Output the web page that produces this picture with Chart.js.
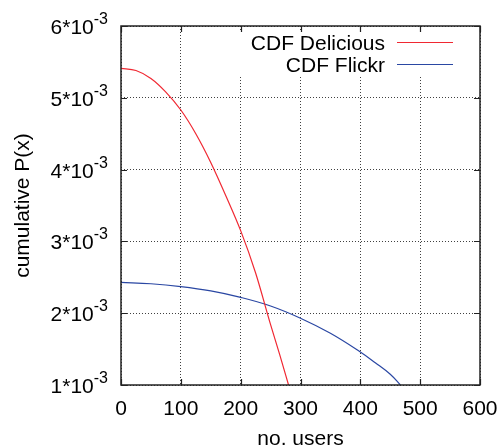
<!DOCTYPE html>
<html>
<head>
<meta charset="utf-8">
<script src="https://cdn.jsdelivr.net/npm/chart.js@4/dist/chart.umd.min.js"></script>
<style>
  html, body { margin: 0; padding: 0; background: #fff; }
  canvas { display: block; }
</style>
</head>
<body>
<canvas id="chart" width="501" height="447"></canvas>
<script>
// values (y in units of 10^-3)
const deliciousX = [0, 25, 50, 75, 100, 125, 150, 175, 200, 225, 250, 265, 280];
const deliciousY = [5.41, 5.38, 5.27, 5.08, 4.83, 4.50, 4.10, 3.64, 3.15, 2.56, 1.84, 1.43, 1.0];
const flickrX = [0, 50, 100, 150, 200, 250, 300, 350, 400, 425, 450, 467];
const flickrY = [2.43, 2.41, 2.37, 2.31, 2.22, 2.10, 1.93, 1.72, 1.46, 1.31, 1.15, 1.0];
const xTicks = [0, 100, 200, 300, 400, 500, 600];
const yTicks = [1, 2, 3, 4, 5, 6];
const seriesNames = ["CDF Delicious", "CDF Flickr"];
const seriesColors = ["rgb(240,40,50)", "#2a47a3"];

const FONT = "Liberation Sans, Arial, sans-serif";

function toPoints(xs, ys) {
    return xs.map((x, i) => ({ x: x, y: ys[i] }));
}

const decor = {
    id: "decor",
    afterDraw(chart) {
        const ctx = chart.ctx;
        const a = chart.chartArea;
        const xs = chart.scales.x;
        const ys = chart.scales.y;
        ctx.save();

        // key background hides the grid under it
        ctx.fillStyle = "#fff";
        ctx.fillRect(236, 32, 242, 43);

        // frame
        ctx.strokeStyle = "#222";
        ctx.lineWidth = 1.5;
        ctx.strokeRect(a.left, a.top, a.right - a.left, a.bottom - a.top);

        // inward tick marks on all four sides
        ctx.lineWidth = 1.2;
        ctx.beginPath();
        xTicks.forEach(v => {
            const px = Math.round(xs.getPixelForValue(v)) + 0.5;
            ctx.moveTo(px, a.bottom); ctx.lineTo(px, a.bottom - 6);
            ctx.moveTo(px, a.top); ctx.lineTo(px, a.top + 6);
        });
        yTicks.forEach(v => {
            const py = Math.round(ys.getPixelForValue(v)) + 0.5;
            ctx.moveTo(a.left, py); ctx.lineTo(a.left + 6, py);
            ctx.moveTo(a.right, py); ctx.lineTo(a.right - 6, py);
        });
        ctx.stroke();

        ctx.fillStyle = "#000";

        // x tick labels
        ctx.font = "21px " + FONT;
        ctx.textAlign = "center";
        ctx.textBaseline = "alphabetic";
        xTicks.forEach(v => {
            ctx.fillText(String(v), xs.getPixelForValue(v), 415);
        });

        // y tick labels as n*10^-3
        yTicks.forEach(v => {
            const py = ys.getPixelForValue(v);
            ctx.font = "16px " + FONT;
            ctx.textAlign = "right";
            const supW = ctx.measureText("-3").width;
            ctx.fillText("-3", 108, py - 2);
            ctx.font = "21px " + FONT;
            ctx.fillText(v + "*10", 108 - supW, py + 8);
        });

        // axis titles
        ctx.font = "21px " + FONT;
        ctx.textAlign = "center";
        ctx.fillText("no. users", (a.left + a.right) / 2, 445);
        ctx.save();
        ctx.translate(29, (a.top + a.bottom) / 2);
        ctx.rotate(-Math.PI / 2);
        ctx.fillText("cumulative P(x)", 0, 0);
        ctx.restore();

        // key
        ctx.textAlign = "right";
        const keyY = [42, 64];
        seriesNames.forEach((name, i) => {
            ctx.fillStyle = "#000";
            ctx.fillText(name, 385, keyY[i] + 8);
            ctx.strokeStyle = seriesColors[i];
            ctx.lineWidth = 1.2;
            ctx.beginPath();
            ctx.moveTo(397, keyY[i] + 0.5);
            ctx.lineTo(453, keyY[i] + 0.5);
            ctx.stroke();
        });

        ctx.restore();
    }
};

new Chart(document.getElementById("chart").getContext("2d"), {
    type: "line",
    data: {
        datasets: [
            {
                label: seriesNames[0],
                data: toPoints(deliciousX, deliciousY),
                borderColor: seriesColors[0],
                borderWidth: 1.2,
                pointRadius: 0,
                cubicInterpolationMode: "monotone",
                fill: false
            },
            {
                label: seriesNames[1],
                data: toPoints(flickrX, flickrY),
                borderColor: seriesColors[1],
                borderWidth: 1.2,
                pointRadius: 0,
                tension: 0.4,
                fill: false
            }
        ]
    },
    options: {
        responsive: false,
        animation: false,
        layout: { padding: { left: 121, top: 26, right: 21, bottom: 62 } },
        plugins: { legend: { display: false }, tooltip: { enabled: false } },
        scales: {
            x: {
                type: "linear",
                min: 0,
                max: 600,
                ticks: { display: false, stepSize: 100 },
                grid: { drawTicks: false, color: "rgba(0,0,0,0.75)", lineWidth: 1 },
                border: { display: false, dash: [1, 2] }
            },
            y: {
                type: "linear",
                min: 1,
                max: 6,
                ticks: { display: false, stepSize: 1 },
                grid: { drawTicks: false, color: "rgba(0,0,0,0.75)", lineWidth: 1 },
                border: { display: false, dash: [1, 2] }
            }
        }
    },
    plugins: [decor]
});
</script>
</body>
</html>
